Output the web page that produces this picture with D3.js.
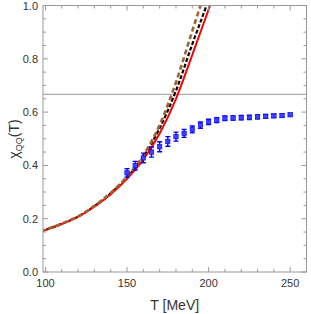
<!DOCTYPE html>
<meta charset="utf-8">
<style>
  body { margin: 0; background: #fff; }
  text { font-family: "Liberation Sans", Arial, sans-serif; fill: #333; }
</style>
<body>
<div id="chart"></div>
<script src="https://d3js.org/d3.v7.min.js"></script>
<script>

  // curve samples
  const curveT = [97, 100, 110, 120, 130, 140, 150, 160, 170, 180, 190, 200, 202];
  const redVals = [0.150, 0.157, 0.180, 0.207, 0.245, 0.292, 0.350, 0.422, 0.520, 0.650, 0.815, 0.985, 1.02];
  const blackT = [97, 100, 110, 120, 130, 140, 150, 160, 170, 180, 190, 199, 201];
  const blackVals = [0.152, 0.158, 0.181, 0.208, 0.247, 0.295, 0.355, 0.432, 0.540, 0.680, 0.855, 1.005, 1.04];
  const brownT = [97, 100, 110, 120, 130, 140, 150, 160, 170, 180, 190, 195, 197];
  const brownVals = [0.153, 0.159, 0.182, 0.209, 0.248, 0.297, 0.358, 0.438, 0.552, 0.712, 0.905, 1.0, 1.04];

  // lattice points
  const latT = [150, 155, 160, 165, 170, 175, 180, 185, 190, 195, 200, 205, 210, 215, 220, 225, 230, 235, 240, 245, 250];
  const latVals = [0.372, 0.399, 0.428, 0.450, 0.470, 0.490, 0.508, 0.520, 0.535, 0.551, 0.563, 0.570, 0.577, 0.578, 0.579, 0.580, 0.582, 0.584, 0.586, 0.587, 0.590];
  const latErr = [0.016, 0.016, 0.018, 0.019, 0.019, 0.018, 0.017, 0.015, 0.013, 0.012, 0.010, 0.009, 0.009, 0.008, 0.008, 0.008, 0.007, 0.007, 0.006, 0.006, 0.005];

  const refLine = 2 / 3;
  const xTicks = [100, 150, 200, 250];
  const yTicks = [0, 0.2, 0.4, 0.6, 0.8, 1.0];

  const width = 311, height = 314;
  const mLeft = 43, mRight = 306.5, mTop = 5.5, mBottom = 272;

  const x = d3.scaleLinear().domain([98.5, 260]).range([mLeft, mRight]);
  const y = d3.scaleLinear().domain([0, 1]).range([mBottom, mTop]);

  const svg = d3.select("#chart").append("svg")
    .attr("width", width)
    .attr("height", height);

  svg.append("defs").append("clipPath").attr("id", "clip")
    .append("rect")
    .attr("x", mLeft).attr("y", mTop)
    .attr("width", mRight - mLeft).attr("height", mBottom - mTop);

  const plot = svg.append("g").attr("clip-path", "url(#clip)");

  // 2/3 reference line
  plot.append("line")
    .attr("x1", mLeft).attr("x2", mRight)
    .attr("y1", y(refLine)).attr("y2", y(refLine))
    .attr("stroke", "#999").attr("stroke-width", 1);

  const line = d3.line().curve(d3.curveMonotoneX);

  function drawCurve(ts, vs, color, w, dash) {
    plot.append("path")
      .attr("d", line(ts.map((t, i) => [x(t), y(vs[i])])))
      .attr("fill", "none")
      .attr("stroke", color)
      .attr("stroke-width", w)
      .attr("stroke-dasharray", dash);
  }

  drawCurve(blackT, blackVals, "#000", 2.2, "4,2");
  drawCurve(curveT, redVals, "#ff0000", 2, null);
  drawCurve(brownT, brownVals, "#996633", 2.6, "5,3");

  // error bars + markers
  const pts = plot.append("g");
  latT.forEach((t, i) => {
    const cx = x(t);
    const y1 = y(latVals[i] - latErr[i]), y2 = y(latVals[i] + latErr[i]);
    pts.append("line").attr("x1", cx).attr("x2", cx).attr("y1", y1).attr("y2", y2)
      .attr("stroke", "#0000ff").attr("stroke-width", 1.4);
    [y1, y2].forEach(yy => {
      pts.append("line").attr("x1", cx - 2.5).attr("x2", cx + 2.5).attr("y1", yy).attr("y2", yy)
        .attr("stroke", "#0000ff").attr("stroke-width", 1.4);
    });
    pts.append("rect")
      .attr("x", cx - 2.2).attr("y", y(latVals[i]) - 2.2)
      .attr("width", 4.4).attr("height", 4.4)
      .attr("fill", "#4040ff").attr("stroke", "#0000ff").attr("stroke-width", 0.6);
  });

  // frame
  const frame = svg.append("g");
  frame.append("rect")
    .attr("x", mLeft).attr("y", mTop)
    .attr("width", mRight - mLeft).attr("height", mBottom - mTop)
    .attr("fill", "none").attr("stroke", "#999").attr("stroke-width", 1);

  // ticks on all four sides, pointing inward
  const xMinor = d3.range(100, 261, 10);
  const yMinor = d3.range(0, 1.0001, 0.05);
  const tickColor = "#999";

  xMinor.forEach(t => {
    const len = xTicks.includes(t) ? 5 : 3;
    frame.append("line").attr("x1", x(t)).attr("x2", x(t)).attr("y1", mBottom).attr("y2", mBottom - len)
      .attr("stroke", tickColor);
    frame.append("line").attr("x1", x(t)).attr("x2", x(t)).attr("y1", mTop).attr("y2", mTop + len)
      .attr("stroke", tickColor);
  });
  yMinor.forEach(v => {
    const major = Math.abs(v * 5 - Math.round(v * 5)) < 1e-6;
    const len = major ? 5 : 3;
    frame.append("line").attr("x1", mLeft).attr("x2", mLeft + len).attr("y1", y(v)).attr("y2", y(v))
      .attr("stroke", tickColor);
    frame.append("line").attr("x1", mRight).attr("x2", mRight - len).attr("y1", y(v)).attr("y2", y(v))
      .attr("stroke", tickColor);
  });

  // tick labels
  svg.selectAll(".xl").data(xTicks).enter().append("text")
    .attr("x", d => x(d)).attr("y", 287)
    .attr("text-anchor", "middle")
    .attr("font-size", 11)
    .text(d => d);

  svg.selectAll(".yl").data(yTicks).enter().append("text")
    .attr("x", 38).attr("y", d => y(d) + 4)
    .attr("text-anchor", "end")
    .attr("font-size", 11)
    .text(d3.format(".1f"));

  // axis titles
  svg.append("text")
    .attr("x", (mLeft + mRight) / 2).attr("y", 310)
    .attr("text-anchor", "middle")
    .attr("font-size", 14)
    .text("T [MeV]");

  const yl = svg.append("text")
    .attr("transform", "translate(19,139) rotate(-90)")
    .attr("text-anchor", "middle")
    .attr("font-size", 14);
  yl.append("tspan").text("χ");
  yl.append("tspan").attr("font-size", 9).attr("dy", 3).text("QQ");
  yl.append("tspan").attr("dy", -3).text("(T)");

</script>
</body>
